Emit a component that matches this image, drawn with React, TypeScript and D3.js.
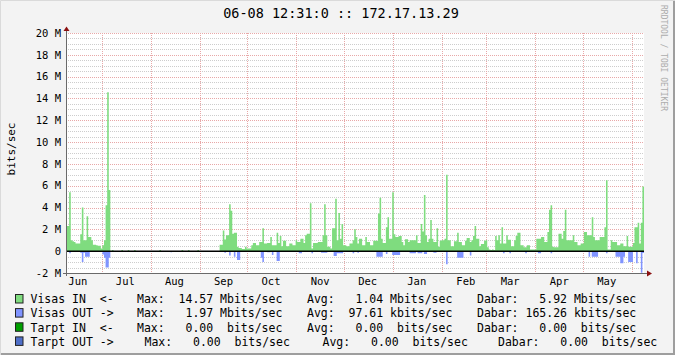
import React from "react";
import * as d3 from "d3";

// ---- data (Mbits/sec, one value per day starting 06-08 12:31) ----
const visasIn: number[] = [
  2.3, 2.3, 5.4, 1.0, 0.9, 0.85, 0.7, 0.7, 0.7, 1.55,
  4.0, 1.0, 1.0, 3.2, 1.3, 1.3, 1.0, 0.6, 0.6, 0.55,
  0.5, 0.5, 0.25, 0.55, 1.0, 4.2, 14.57, 5.6, 0, 0.1,
  0, 0, 0, 0, 0, 0.1, 0, 0, 0, 0.1,
  0, 0, 0, 0.1, 0, 0, 0, 0, 0, 0,
  0, 0, 0, 0, 0, 0, 0, 0, 0, 0.1,
  0, 0, 0, 0, 0, 0, 0, 0, 0, 0,
  0, 0, 0, 0.1, 0, 0, 0, 0.1, 0, 0,
  0, 0, 0, 0.1, 0, 0, 0, 0, 0, 0,
  0, 0, 0, 0, 0, 0, 0, 0.6, 0.6, 1.9,
  1.07, 1.47, 1.47, 4.3, 3.7, 1.6, 1.7, 1.7, 0.4, 0.3,
  0.3, 0.2, 0.2, 0.4, 0.25, 0.25, 0.25, 0.55, 0.75, 0.75,
  0.55, 0.55, 0.85, 0.85, 2.1, 0.7, 0.7, 0.75, 0.75, 1.3,
  0.55, 0.55, 0.55, 1.7, 0.75, 1.4, 0.45, 0.95, 0.95, 0.45,
  0.45, 0.7, 0.7, 0.55, 0.55, 1.0, 0.85, 0.85, 1.15, 1.15,
  0.75, 1.45, 1.6, 1.6, 4.4, 0.25, 0.75, 0.75, 0.75, 0.85,
  0.85, 0.85, 1.45, 4.3, 1.45, 0.4, 0.4, 0.25, 2.1, 2.1,
  4.8, 1.0, 3.5, 1.15, 2.5, 0.55, 0.55, 0.45, 0.45, 0.7,
  0.7, 1.0, 2.0, 1.3, 0.7, 1.15, 1.15, 0.55, 0.55, 1.3,
  0.85, 0.85, 0.55, 0.55, 0.95, 0.95, 0.95, 3.45, 4.9, 1.15,
  0.75, 0.75, 2.2, 3.1, 1.15, 1.15, 5.4, 1.55, 1.3, 1.3,
  1.4, 1.4, 0.85, 0.55, 1.1, 1.1, 0.85, 1.0, 1.0, 1.0,
  1.0, 1.45, 0.75, 0.75, 2.5, 1.8, 5.15, 1.45, 0.85, 1.15,
  2.85, 1.15, 0.85, 0.85, 2.1, 0.4, 0.95, 1.0, 1.0, 1.15,
  7.0, 1.0, 1.0, 0.45, 0.45, 0.9, 0.9, 1.7, 0.85, 0.85,
  0.55, 0.55, 0.95, 1.2, 1.2, 0.85, 1.0, 1.4, 2.3, 1.15,
  1.15, 0.45, 0.65, 0.65, 0.95, 1.0, 0.35, 0.15, 0.1, 0.15,
  0.1, 1.4, 1.0, 1.45, 0.7, 2.2, 0.7, 0.7, 1.45, 1.05,
  1.05, 0.45, 0.45, 1.0, 1.4, 1.7, 1.7, 0.55, 0.55, 0.35,
  0.35, 0.55, 0.55, 0.15, 0.15, 0.15, 0.15, 1.15, 1.15, 1.15,
  1.3, 1.3, 0.85, 0.85, 1.75, 3.8, 4.2, 0.4, 0.35, 0.35,
  0.35, 1.6, 1.6, 1.15, 1.85, 3.8, 1.0, 1.0, 1.0, 1.0,
  1.45, 0.85, 0.85, 0.55, 0.55, 0.7, 0.7, 1.75, 1.75, 1.45,
  1.45, 1.45, 3.1, 1.3, 1.0, 1.0, 1.0, 1.3, 1.3, 1.3,
  2.2, 6.5, 0.15, 0.15, 1.0, 0.85, 0.85, 0.85, 0.55, 0.55,
  0.7, 0.7, 0.45, 0.45, 1.4, 0.4, 0.4, 0.4, 0.75, 2.2,
  2.2, 2.6, 0.7, 2.6, 5.92,
];

const visasOut: number[] = [
  0, 0, 0.2, 0, 0, 0, 0, 0, 0, 0.15,
  1.0, 0.15, 0.5, 0.5, 0.5, 0, 0, 0, 0, 0,
  0, 0, 0, 0.3, 0.6, 1.5, 1.5, 0.6, 0, 0,
  0, 0, 0, 0, 0, 0, 0, 0, 0, 0,
  0, 0, 0, 0, 0, 0, 0, 0, 0, 0,
  0, 0, 0, 0, 0, 0, 0, 0, 0, 0,
  0, 0, 0, 0, 0, 0, 0.1, 0, 0, 0,
  0, 0, 0, 0, 0, 0, 0, 0, 0, 0,
  0, 0, 0, 0, 0, 0, 0, 0, 0, 0,
  0, 0, 0, 0, 0, 0, 0, 0, 0, 0,
  0.15, 0, 0, 0.4, 0, 0, 0.5, 0, 0.8, 0.8,
  0, 0, 0, 0, 0, 0, 0, 0, 0, 0,
  0, 0, 0, 0.6, 1.0, 0, 0, 0.1, 0.1, 0,
  0.35, 0, 0, 0.9, 0.9, 0, 0, 0, 0, 0,
  0, 0, 0, 0, 0, 0, 0, 0.2, 0.2, 0,
  0, 0, 0, 0, 0, 0.2, 0, 0, 0, 0,
  0, 0.15, 0.15, 0.15, 0.15, 0, 0, 0, 0, 0.45,
  0.45, 0.2, 0.2, 0.2, 0.2, 0, 0, 0, 0, 0,
  0, 0.2, 0, 0, 0.15, 0, 0, 0, 0, 0,
  0, 0, 0, 0, 0, 0, 0.5, 0.5, 0.5, 0.5,
  0, 0, 0.25, 0, 0, 0, 0.35, 0.35, 0.35, 0.35,
  0.35, 0, 0, 0, 0, 0, 0, 0.2, 0.2, 0.2,
  0.2, 0, 0.2, 0.2, 0.2, 0, 0.25, 0.25, 0, 0,
  0, 0, 0.15, 0.15, 0, 0, 0, 0, 0, 0,
  1.2, 0, 0, 0, 0, 0, 0, 0.6, 0.6, 0.6,
  0.6, 0, 0, 0, 0, 0.4, 0, 0, 0, 0,
  0, 0, 0, 0, 0, 0, 0, 0, 0, 0,
  0, 0, 0, 0, 0, 0, 0.2, 0, 0, 0,
  0.2, 0, 0, 0, 0, 0, 0, 0, 0, 0,
  0.2, 0, 0, 0, 0, 0, 0, 0, 0.2, 0.2,
  0, 0, 0, 0, 0, 0, 0.2, 0, 0, 0,
  0, 0, 0, 0, 0, 0, 0, 0, 0, 0,
  0, 0, 0, 0, 0, 0, 0, 0, 0, 0,
  0.5, 0, 0.5, 0.5, 0.5, 0.5, 0, 0, 0, 0,
  0, 0.2, 0, 0, 0, 0, 0, 0.5, 0.5, 0.5,
  1.1, 1.1, 0.5, 0, 0, 1.0, 1.0, 1.0, 0, 0,
  1.1, 0, 0, 1.97, 0.165,
];

const yTicks: number[] = [-2, 0, 2, 4, 6, 8, 10, 12, 14, 16, 18, 20];
const title = "06-08 12:31:0 :: 172.17.13.29";
const yLabel = "bits/sec";

const legendNames = ["Visas IN  <-", "Visas OUT ->", "Tarpt IN  <-", "Tarpt OUT ->"];
const legendColors = ["#7FDC7F", "#8094FF", "#00A000", "#4F6FC8"];
const legendMax = ["Max:  14.57 Mbits/sec", "Max:   1.97 Mbits/sec", "Max:   0.00  bits/sec", "Max:   0.00  bits/sec"];
const legendAvg = ["Avg:   1.04 Mbits/sec", "Avg:  97.61 kbits/sec", "Avg:   0.00  bits/sec", "Avg:   0.00  bits/sec"];
const legendCur = ["Dabar:   5.92 Mbits/sec", "Dabar: 165.26 kbits/sec", "Dabar:   0.00  bits/sec", "Dabar:   0.00  bits/sec"];

const START = Date.UTC(2006, 5, 8, 12, 31);
const DAY = 86400000;
const END = START + 365 * DAY;

const W = 675, H = 355;
const L = 66, R = 644, T = 33, B = 273;
const MONO = "'DejaVu Sans Mono', monospace";

export default function App() {
  const x = d3.scaleUtc().domain([new Date(START), new Date(END)]).range([L, R]);
  const y = d3.scaleLinear().domain([-2, 20]).range([B, T]);

  const inData = [...visasIn, visasIn[visasIn.length - 1]];
  const outData = [...visasOut, visasOut[visasOut.length - 1]];

  const areaIn = d3.area<number>()
    .x((_, i) => x(new Date(START + i * DAY)))
    .y0(y(0)).y1((d) => y(d)).curve(d3.curveStepAfter);
  const areaOut = d3.area<number>()
    .x((_, i) => x(new Date(START + i * DAY)))
    .y0(y(0)).y1((d) => y(-d)).curve(d3.curveStepAfter);

  const minor = d3.range(-2, 20.001, 0.5).filter((v) => Math.abs(v / 2 - Math.round(v / 2)) > 1e-6);
  const months = d3.utcMonth.range(new Date(START), new Date(END));
  const labelMonths = d3.utcMonth
    .range(d3.utcMonth.floor(new Date(START)), new Date(END))
    .map((m) => new Date(m.getTime() + 15 * DAY))
    .filter((m) => m.getTime() >= START && m.getTime() <= END);
  const fmt = d3.utcFormat("%b");

  const rowBase = [303.3, 317.4, 331.6, 345.7];
  const maxX = [137, 137, 137, 144.5];
  const avgX = [307, 307, 307, 322.5];
  const curX = [477, 477, 477, 498];

  return (
    <svg width={W} height={H} style={{ position: "absolute", left: 0, top: 0, display: "block" }}>
      <rect x={0} y={0} width={W} height={H} fill="#F3F3F3" />
      <path d={`M0.5,${H} V0.5 H${W}`} stroke="#DADADA" strokeWidth={1} fill="none" />
      <path d={`M1,${H - 1} H${W - 1} V1`} stroke="#9E9E9E" strokeWidth={2} fill="none" />

      <rect x={L} y={T} width={R - L} height={B - T} fill="#FFFFFF" />

      {minor.map((v) => (
        <line key={"mn" + v} x1={L} x2={R} y1={Math.round(y(v)) + 0.5} y2={Math.round(y(v)) + 0.5}
          stroke="#CDCDCD" strokeDasharray="1,1" strokeWidth={1} />
      ))}
      {yTicks.map((v) => (
        <line key={"mj" + v} x1={L} x2={R} y1={Math.round(y(v)) + 0.5} y2={Math.round(y(v)) + 0.5}
          stroke="#E8A8A8" strokeDasharray="1,1" strokeWidth={1} />
      ))}
      {months.map((m) => (
        <line key={"vm" + m.getTime()} x1={Math.round(x(m)) + 0.5} x2={Math.round(x(m)) + 0.5} y1={T} y2={B}
          stroke="#E8A8A8" strokeDasharray="1,1" strokeWidth={1} />
      ))}

      <path d={areaIn(inData) || ""} fill={legendColors[0]} />
      <path d={areaOut(outData) || ""} fill={legendColors[1]} />
      <line x1={L} x2={R} y1={y(0)} y2={y(0)} stroke="#000" strokeWidth={1.5} />

      {/* axes */}
      <line x1={L + 0.5} x2={L + 0.5} y1={B + 3} y2={T - 4} stroke="#6A6A6A" />
      <line x1={L - 3} x2={R + 3} y1={B + 0.5} y2={B + 0.5} stroke="#6A6A6A" />
      <path d={`M${L + 0.5},${T - 6.5} L${L + 3.5},${T - 2} L${L - 2.5},${T - 2} Z`} fill="#8B1010" />
      <path d={`M${R + 8},${B + 0.5} L${R + 3},${B - 2.5} L${R + 3},${B + 3.5} Z`} fill="#8B1010" />

      {yTicks.map((v) => (
        <text key={"yl" + v} x={61} y={y(v) + 3.7} textAnchor="end" fontFamily={MONO} fontSize={10.5} fill="#000">
          {v === 0 ? "0" : `${v} M`}
        </text>
      ))}
      {labelMonths.map((m) => (
        <text key={"ml" + m.getTime()} x={x(m)} y={285} textAnchor="middle" fontFamily={MONO} fontSize={10.5} fill="#000">
          {fmt(m)}
        </text>
      ))}

      <text x={341} y={18.3} textAnchor="middle" fontFamily={MONO} fontSize={13.5} fill="#000">{title}</text>
      <text transform={`translate(14.5,149) rotate(-90)`} textAnchor="middle" fontFamily={MONO} fontSize={11} fill="#000">{yLabel}</text>
      <text transform={`translate(661,5) rotate(90)`} fontFamily={MONO} fontSize={8} fill="#ACACAC">RRDTOOL / TOBI OETIKER</text>

      {legendNames.map((n, i) => (
        <g key={"lg" + i}>
          <rect x={15.5} y={rowBase[i] - 8.8} width={7.5} height={8.5} fill={legendColors[i]} stroke="#222" strokeWidth={1} />
          <text x={30.5} y={rowBase[i]} fontFamily={MONO} fontSize={11.5} fill="#000" style={{ whiteSpace: "pre" }}>{n}</text>
          <text x={maxX[i]} y={rowBase[i]} fontFamily={MONO} fontSize={11.5} fill="#000" style={{ whiteSpace: "pre" }}>{legendMax[i]}</text>
          <text x={avgX[i]} y={rowBase[i]} fontFamily={MONO} fontSize={11.5} fill="#000" style={{ whiteSpace: "pre" }}>{legendAvg[i]}</text>
          <text x={curX[i]} y={rowBase[i]} fontFamily={MONO} fontSize={11.5} fill="#000" style={{ whiteSpace: "pre" }}>{legendCur[i]}</text>
        </g>
      ))}
    </svg>
  );
}
